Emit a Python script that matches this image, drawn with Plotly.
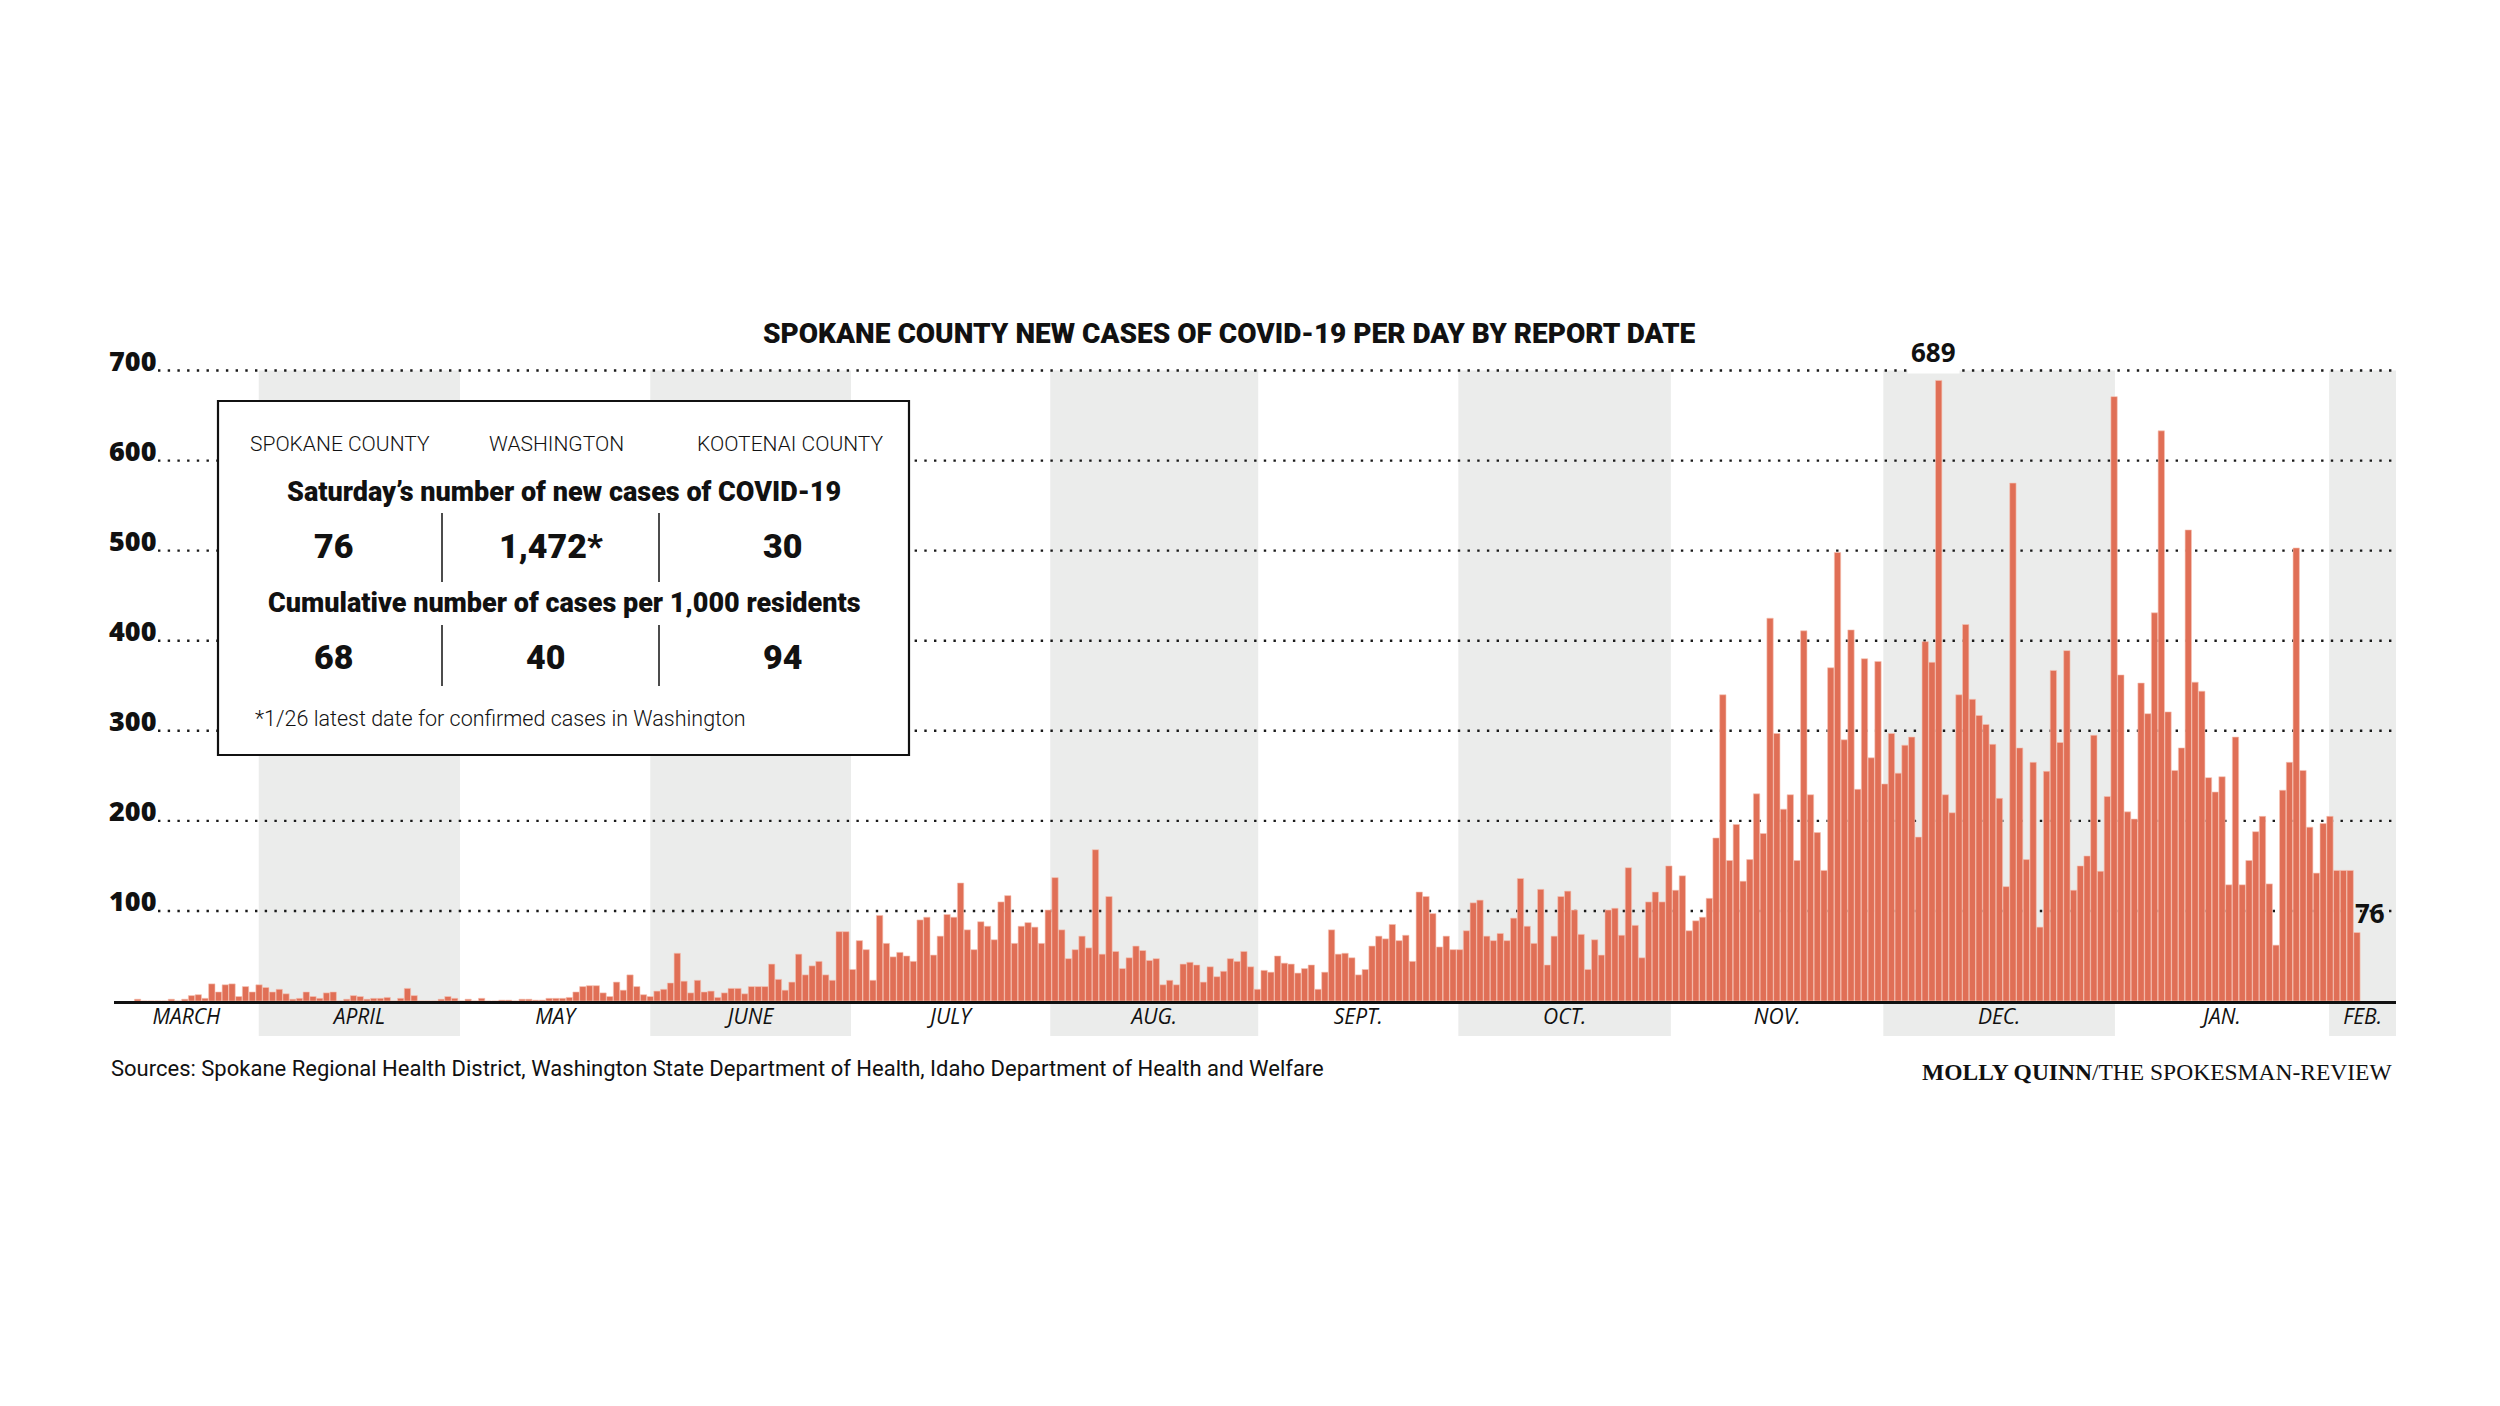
import pandas as pd
import plotly.graph_objects as go

# ---------------- data ----------------
first_report_date = "2020-03-14"
new_cases = [
    # mid/late March
    2, 0, 0, 0, 0, 2, 0, 2, 6, 7, 3, 19, 10, 18, 19, 5, 16, 10,
    # April band
    18, 15, 10, 13, 8, 2, 3, 10, 5, 3, 9, 10, 0, 2, 6, 5, 2, 3, 3, 4,
    0, 3, 14, 6, 0, 0, 0, 2, 5, 3,
    # May
    0, 2, 0, 3, 0, 0, 1, 1, 0, 2, 2, 1, 1, 3, 3, 3, 4, 10, 16, 17,
    17, 9, 5, 21, 12, 29, 16, 7,
    # June band
    5, 11, 13, 20, 53, 22, 9, 23, 10, 11, 4, 9, 14, 14, 8, 16, 16, 16, 41, 24,
    12, 21, 52, 29, 39, 44, 29, 23, 77, 77, 35,
    # July
    67, 57, 23, 95, 64, 49, 54, 50, 44, 90, 93, 51, 72, 96, 93, 131, 79, 57, 88, 83,
    68, 110, 117, 64, 83, 87, 82, 64, 101, 137,
    # August band
    79, 47, 57, 72, 59, 168, 52, 116, 55, 36, 48, 61, 56, 45, 47, 18, 23, 18, 41, 43,
    40, 21, 38, 27, 33, 47, 44, 55, 38, 13, 34,
    # September
    32, 50, 42, 41, 31, 36, 40, 13, 32, 79, 52, 53, 48, 29, 35, 61, 72, 69, 85, 67,
    73, 44, 121, 116, 97, 60, 72, 57, 57, 78,
    # October band
    109, 112, 72, 67, 75, 67, 92, 136, 83, 64, 124, 40, 72, 116, 122, 101, 74, 35, 68, 51,
    101, 103, 73, 148, 84, 48, 110, 121, 110, 150, 123, 139,
    # November
    78, 89, 93, 114, 181, 340, 156, 196, 133, 157, 230, 186, 425, 297, 213, 229, 156, 411, 229, 187,
    145, 370, 498, 290, 412, 235, 380, 270, 377, 241,
    # December band
    297, 253, 284, 293, 182, 399, 376, 689, 229, 209, 340, 418, 335, 317, 307, 285, 225, 127, 575, 281,
    157, 265, 82, 255, 367, 287, 389, 123, 150, 161, 295, 144, 227,
    # January
    671, 362, 210, 202, 353, 319, 431, 633, 321, 256, 281, 523, 354, 344, 248, 232, 249, 129, 293, 129,
    156, 188, 205, 130, 62, 234, 265, 503, 256, 193, 142,
    # February
    197, 205, 145, 145, 145, 76,
]

month_labels = ["MARCH", "APRIL", "MAY", "JUNE", "JULY", "AUG.", "SEPT.",
                "OCT.", "NOV.", "DEC.", "JAN.", "FEB."]
# where the alternating month shading changes, as drawn in the reference
shading_edges = ["2020-03-31 23:00", "2020-04-30 19:00", "2020-05-29 00:00", "2020-06-27 18:00",
                 "2020-07-27 07:00", "2020-08-27 03:00", "2020-09-25 19:00", "2020-10-27 07:00",
                 "2020-11-27 19:00", "2021-01-01 03:00", "2021-02-01 21:00"]
shaded_labels = ["APRIL", "JUNE", "AUG.", "OCT.", "DEC.", "FEB."]
y_ticks = [100, 200, 300, 400, 500, 600, 700]

title_text = "SPOKANE COUNTY NEW CASES OF COVID-19 PER DAY BY REPORT DATE"
regions = ["SPOKANE COUNTY", "WASHINGTON", "KOOTENAI COUNTY"]
row1_title = "Saturday\u2019s number of new cases of COVID-19"
saturday_new = ["76", "1,472*", "30"]
row2_title = "Cumulative number of cases per 1,000 residents"
per_1000 = ["68", "40", "94"]
footnote = "*1/26 latest date for confirmed cases in Washington"
sources = ("Sources: Spokane Regional Health District, Washington State Department of Health, "
           "Idaho Department of Health and Welfare")
credit_name = "MOLLY QUINN"
credit_org = "/THE SPOKESMAN-REVIEW"

# ---------------- layout ----------------
W, H = 2500, 1406
OFF = 8                                  # page body margin of the html file
L, R, B = 114, 2396, 1001                # plot area in page pixels
Y_TOP = 735                              # axis headroom above the 700 line
PX_PER_UNIT = (1001 - 370.5) / 700
T = B - Y_TOP * PX_PER_UNIT
x_start = pd.Timestamp("2020-03-10 12:00")
x_end = pd.Timestamp("2021-02-11 19:00")

BAR = "#E06F56"
BAND = "#EBECEB"
SANS = "Roboto, 'Open Sans', sans-serif"
BOLDFONT = "'Open Sans', Roboto, sans-serif"


def px(xp, yp):
    return (xp - L) / (R - L), (B - yp) / (B - T)


dates = pd.date_range(start=first_report_date, periods=len(new_cases), freq="D")

edges = [x_start] + [pd.Timestamp(e) for e in shading_edges] + [x_end]
tickvals = [edges[i] + (edges[i + 1] - edges[i]) / 2 for i in range(len(month_labels))]

fig = go.Figure()
fig.add_trace(go.Bar(
    x=dates, y=new_cases,
    marker=dict(color=BAR, line=dict(color="#F6C2B4", width=0.6)),
    hoverinfo="skip", showlegend=False,
))

shapes = []
_, band_bottom = px(0, 1036)
band_top = 700 / Y_TOP
for i, lab in enumerate(month_labels):
    if lab in shaded_labels:
        shapes.append(dict(type="rect", xref="x", yref="paper",
                           x0=edges[i], x1=edges[i + 1], y0=band_bottom, y1=band_top,
                           fillcolor=BAND, line=dict(width=0), layer="below"))
gx0, _ = px(158, 0)
gx1, _ = px(2394, 0)
for v in y_ticks:
    shapes.append(dict(type="line", xref="paper", yref="y", x0=gx0, x1=gx1,
                       y0=v, y1=v, line=dict(color="#1a1a1a", width=2.4, dash="2.4px,7.3px"),
                       layer="below"))
bx0, by1 = px(218, 401)
bx1, by0 = px(909, 755)
shapes.append(dict(type="rect", xref="paper", yref="paper", x0=bx0, x1=bx1, y0=by0, y1=by1,
                   fillcolor="white", line=dict(color="#111", width=2.2), layer="above"))
for xd in (442, 659):
    for (ya, yb) in ((513, 582), (625, 686)):
        x0p, y0p = px(xd, ya)
        _, y1p = px(xd, yb)
        shapes.append(dict(type="line", xref="paper", yref="paper", x0=x0p, x1=x0p,
                           y0=y0p, y1=y1p, line=dict(color="#111", width=1.5), layer="above"))

ann = []


def text(xp, yp, s, size, family=SANS, weight="normal", xanchor="center", color="#111"):
    xx, yy = px(xp, yp)
    ann.append(dict(xref="paper", yref="paper", x=xx, y=yy, text=s, showarrow=False,
                    xanchor=xanchor, yanchor="middle",
                    font=dict(family=family, size=size, color=color, weight=weight)))


text(1229, 333, title_text, 28, weight=900)
for xc, r in zip((340, 556, 790), regions):
    text(xc, 444, r, 21, weight=300)
text(564, 492, row1_title, 27, weight=900)
for xc, v in zip((333, 551, 782), saturday_new):
    text(xc, 546, v, 34, weight=900)
text(564, 603, row2_title, 27, weight=900)
for xc, v in zip((333, 545, 782), per_1000):
    text(xc, 657, v, 34, weight=900)
text(253, 718, footnote, 21.5, xanchor="left", weight=300)
text(109, 1069, sources, 22, xanchor="left")
text(2394, 1072, "<b>" + credit_name + "</b>" + credit_org, 23.5,
     family="'Liberation Serif', 'DejaVu Serif', serif", xanchor="right")

imax = max(range(len(new_cases)), key=lambda i: new_cases[i])
ann.append(dict(x=dates[imax], y=new_cases[imax], xref="x", yref="y",
                text="<b>%d</b>" % new_cases[imax],
                showarrow=False, yanchor="bottom", xanchor="center", yshift=6, xshift=-5,
                bgcolor="white", borderpad=3,
                font=dict(family=BOLDFONT, size=26, color="#111")))
ann.append(dict(x=dates[-1], y=new_cases[-1], xref="x", yref="y", text="<b>%d</b>" % new_cases[-1],
                showarrow=False, yanchor="bottom", xanchor="left", yshift=0, xshift=-4,
                font=dict(family=BOLDFONT, size=26, color="#111")))

fig.update_layout(
    width=W, height=H,
    margin=dict(l=L - OFF, r=W - (R - OFF), t=T - OFF, b=H - (B - OFF), pad=0),
    paper_bgcolor="white", plot_bgcolor="rgba(0,0,0,0)",
    bargap=0.06, showlegend=False,
    shapes=shapes, annotations=ann,
    xaxis=dict(type="date", range=[x_start, x_end], tickmode="array",
               tickvals=tickvals, ticktext=month_labels, ticks="", ticklabelstandoff=-5,
               tickfont=dict(family="'Open Sans', sans-serif", size=21, color="#111", style="italic"),
               showgrid=False, zeroline=False, showline=True, linecolor="#111", linewidth=2.5,
               fixedrange=True),
    yaxis=dict(range=[0, Y_TOP], tickmode="array", tickvals=y_ticks,
               ticktext=[str(v) for v in y_ticks], ticklabelposition="inside",
               ticklabelshift=-9, ticklabelstandoff=-8, ticks="",
               tickfont=dict(family=BOLDFONT, size=27, color="#111", weight=800),
               showgrid=False, zeroline=False, showline=False, fixedrange=True),
)

fig.write_html("out.html")
